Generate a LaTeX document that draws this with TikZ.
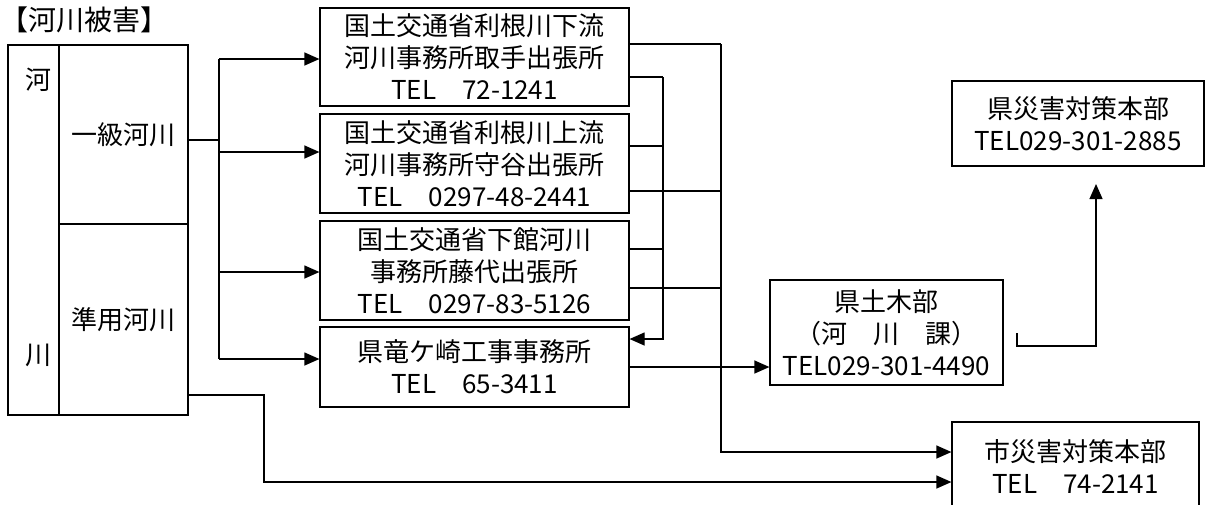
\documentclass[tikz,border=0pt]{standalone}
\usepackage{fontspec}
\setmainfont{Noto Sans CJK JP}
\usetikzlibrary{positioning,arrows.meta}

\tikzset{
  office/.style={draw,rectangle,inner sep=0pt,align=center,font=\fontsize{26}{32}\selectfont},
  lab/.style={inner sep=0pt,font=\fontsize{26}{32}\selectfont},
  arr/.style={-{Triangle[length=15pt,width=13pt]}}
}

\begin{document}
\begin{tikzpicture}[x=1pt,y=-1pt,line width=1.2pt]
    \useasboundingbox (0,0) rectangle (1206,504);
    \node[lab,anchor=west,font=\fontsize{28}{32}\selectfont] (title) at (0,20) {【河川被害】};
    % river classes
    \node[office,minimum width=51pt,minimum height=370pt] (kasen) at (33.5,230) {};
    \node[lab] (kawa) at (38,80) {河};
    \node[lab] (kawa2) at (38,355) {川};
    \node[office,minimum width=129pt,minimum height=179pt] (ikkyu) at (123.5,134.5) {一級河川};
    \node[office,minimum width=129pt,minimum height=191pt] (junyo) at (123.5,319.5) {準用河川};
    % offices
    \node[office,minimum width=309pt,minimum height=98pt] (shimo) at (474.5,57) {国土交通省利根川下流\\河川事務所取手出張所\\TEL　72-1241};
    \node[office,minimum width=309pt,minimum height=99pt] (kami) at (474.5,163.5) {国土交通省利根川上流\\河川事務所守谷出張所\\TEL　0297-48-2441};
    \node[office,minimum width=309pt,minimum height=99pt] (shimodate) at (474.5,270.5) {国土交通省下館河川\\事務所藤代出張所\\TEL　0297-83-5126};
    \node[office,minimum width=309pt,minimum height=80pt] (ryugasaki) at (474.5,367) {県竜ケ崎工事事務所\\TEL　65-3411};
    \node[office,minimum width=233pt,minimum height=105pt] (doboku) at (886.5,332.5) {県土木部\\（河　川　課）\\TEL029-301-4490};
    \node[office,minimum width=252pt,minimum height=85pt] (kensai) at (1078,123.5) {県災害対策本部\\TEL029-301-2885};
    \node[office,minimum width=247pt,minimum height=90pt] (shisai) at (1075.5,467) {市災害対策本部\\TEL　74-2141};
    % first class rivers
    \coordinate (sA) at (219,59);
    \coordinate (sB) at (219,359);
    \draw (ikkyu.east |- 0,140) -- (sA |- 0,140);
    \draw (sA) -- (sB);
    \foreach \y/\to in {59/shimo,152/kami,272/shimodate,359/ryugasaki} {
      \draw[arr] (sA |- 0,\y) -- (\to.west |- 0,\y);
    }
    % reports from the offices
    \coordinate (busA) at (721,44);
    \coordinate (busB) at (663,77);
    \draw (shimo.east |- busA) -- (busA);
    \draw (shimo.east |- busB) -- (busB);
    \draw (kami.east |- 0,146) -- (busB |- 0,146);
    \draw (kami.east |- 0,191) -- (busA |- 0,191);
    \draw (shimodate.east |- 0,249) -- (busB |- 0,249);
    \draw (shimodate.east |- 0,288) -- (busA |- 0,288);
    \draw[arr] (busB) -- (busB |- 0,339) -- (ryugasaki.east |- 0,339);
    \draw[arr] (busA) -- (busA |- 0,452) -- (shisai.west |- 0,452);
    \draw[arr] (ryugasaki.east) -- (doboku.west |- ryugasaki.east);
    % prefecture
    \coordinate (dA) at (1017,333);
    \coordinate (dB) at (1096,184);
    \draw[arr] (dA) -- (dA |- 0,346) -- (dB |- 0,346) -- (dB);
    % locally managed rivers
    \coordinate (jA) at (264,395);
    \draw[arr] (junyo.east |- jA) -- (jA) -- (jA |- 0,482) -- (shisai.west |- 0,482);
\end{tikzpicture}
\end{document}
